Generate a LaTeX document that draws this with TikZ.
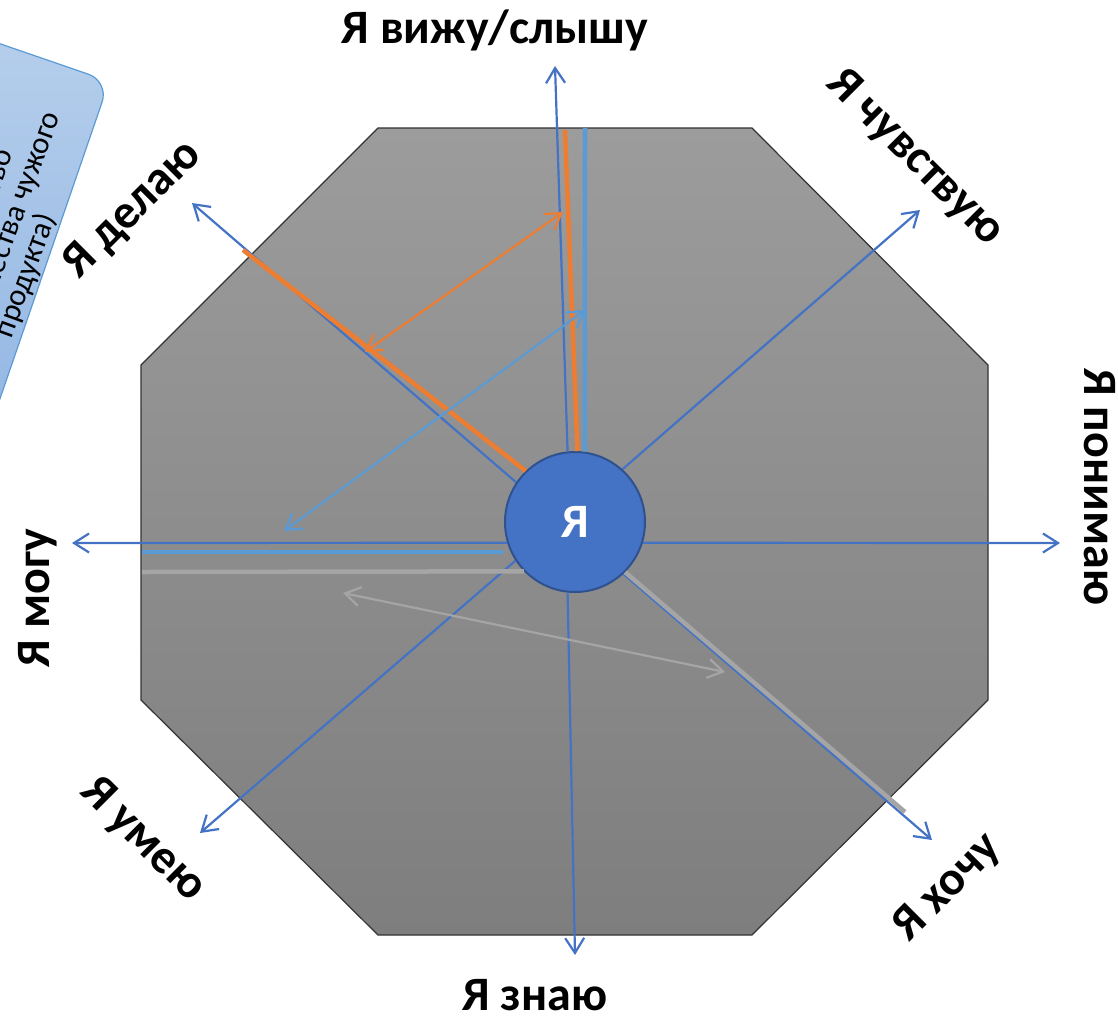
\documentclass[tikz,border=0pt]{standalone}
\usepackage{fontspec}
\setmainfont{Carlito}
\usetikzlibrary{arrows.meta}

\definecolor{axisblue}{HTML}{4472C4}
\definecolor{rimblue}{HTML}{2F528F}
\definecolor{skyblue}{HTML}{5B9BD5}
\definecolor{paleblue}{HTML}{B7CFEC}
\definecolor{midblue}{HTML}{8DB3E2}
\definecolor{tone}{HTML}{ED7D31}
\definecolor{ash}{HTML}{A5A5A5}
\definecolor{octtop}{HTML}{9C9C9C}
\definecolor{octbot}{HTML}{7E7E7E}

\begin{document}
\begin{tikzpicture}[x=1pt,y=-1pt,
    barb/.tip={Straight Barb[length=15pt,width=19pt]},
    axis/.style={draw=axisblue, line width=2.2pt, -barb},
    band/.style={line width=4.5pt},
    link/.style={line width=2.2pt, barb-barb},
    lbl/.style={font=\bfseries\fontsize{48}{54}\selectfont}]
    \useasboundingbox (0,0) rectangle (1118,1015);

    \node (note) [rotate=71, anchor=south east, minimum width=440pt, minimum height=200pt,
      rounded corners=22pt, draw=skyblue, line width=1.2pt, top color=paleblue, bottom color=midblue] at (110,81) {};
    \node (notetext) [rotate=70, anchor=south, align=center, inner sep=0pt,
      font=\fontsize{31}{31}\selectfont] at (39,280) {Оценка качество\\(оценка качества чужого\\продукта)};

    \draw[draw=black!80, line width=1.2pt, top color=octtop, bottom color=octbot]
      (378,128) -- (752,128) -- (988,365) -- (988,700) -- (752,935) -- (378,935) -- (141,700) -- (141,365) -- cycle;

    \node (me) [circle, minimum size=140pt, inner sep=0pt, fill=axisblue, draw=rimblue, line width=2pt,
      text=white, font=\bfseries\fontsize{48}{48}\selectfont] at (575,522) {Я};

    \coordinate (n) at (555,66);
    \coordinate (ne) at (920,210);
    \coordinate (e) at (1060,543);
    \coordinate (se) at (932,840);
    \coordinate (s) at (575,955);
    \coordinate (sw) at (200,833);
    \coordinate (w) at (72,543);
    \coordinate (nw) at (192,203);
    \foreach \ang/\tip in {96/n,48/ne,-17/e,-47/se,-96/s,213/sw,197/w,146/nw}
      \draw[axis] (me.\ang) -- (\tip);

    \coordinate (orangeend) at (243,250);
    \coordinate (orangetop) at (565,130);
    \coordinate (skytop) at (585,128);
    \coordinate (skyleft) at (142,552);
    \coordinate (skyright) at (503,552);
    \coordinate (ashleft) at (142,572);
    \coordinate (ashend) at (905,812);
    \draw[band, tone] (me.134) -- (orangeend);
    \draw[band, tone] (me.88) -- (orangetop);
    \draw[band, skyblue] (me.82) -- (skytop);
    \draw[band, skyblue] (skyright) -- (skyleft);
    \draw[band, ash] (me.224) -- (ashleft);
    \draw[band, ash] (me.-45) -- (ashend);

    \coordinate (o1) at (365,352);
    \coordinate (o2) at (563,212);
    \coordinate (b1) at (284,531);
    \coordinate (b2) at (585,310);
    \coordinate (g1) at (343,593);
    \coordinate (g2) at (725,672);
    \draw[link, tone] (o1) -- (o2);
    \draw[link, skyblue] (b1) -- (b2);
    \draw[link, ash] (g1) -- (g2);

    \foreach \n/\x/\y/\r/\t in {see/495/30/0/{Я вижу/слышу}, feel/915/158/-45/{Я чувствую},
        grasp/1100/487/-90/{Я понимаю}, want/948/888/45/{Я хочу}, know/535/995/0/{Я знаю},
        skill/143/840/-45/{Я умею}, can/38/598/90/{Я могу}, do/133/210/45/{Я делаю}}
      \node (\n) [lbl, rotate=\r] at (\x,\y) {\t};
\end{tikzpicture}
\end{document}
